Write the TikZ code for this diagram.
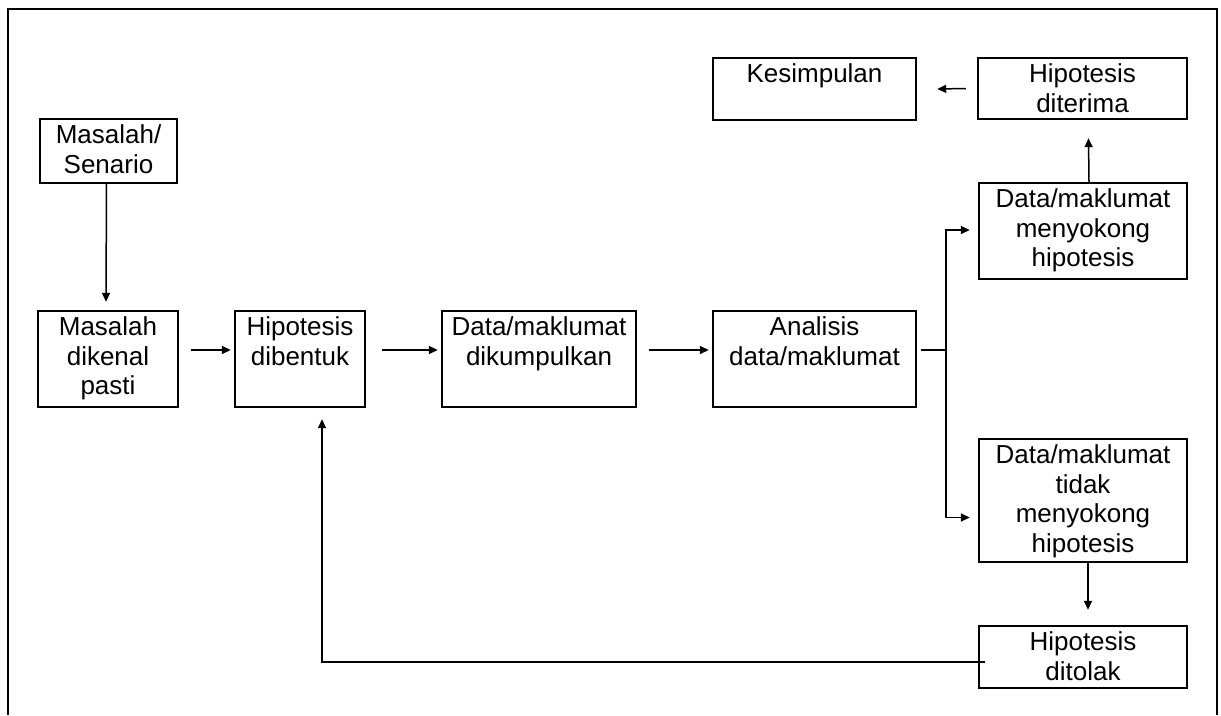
\documentclass[tikz,border=0pt]{standalone}
\usepackage{fontspec}
\setmainfont{Liberation Sans}
\usetikzlibrary{arrows.meta}
\begin{document}
\begin{tikzpicture}[x=1pt,y=-1pt,
  box/.style={draw, line width=2.4pt, inner sep=0pt, rectangle},
  lbl/.style={anchor=north, inner sep=0pt, align=center, font=\fontsize{26}{29.5}\selectfont},
  arr/.style={line width=1.5pt, -{Triangle[length=9pt,width=8pt]}},
  conn/.style={line width=1.5pt}]
\useasboundingbox (0,0) rectangle (1221,715);
\draw[line width=2.4pt] (8,715) -- (8,9) -- (1217,9) -- (1217,715);

% boxes
\node[box, minimum width=137, minimum height=64] (ms) at (108.5,151) {};
\node[box, minimum width=140, minimum height=96] (mk) at (108,359) {};
\node[box, minimum width=130, minimum height=96] (hd) at (300,359) {};
\node[box, minimum width=194, minimum height=96] (dk) at (539,359) {};
\node[box, minimum width=203, minimum height=96] (an) at (814.5,359) {};
\node[box, minimum width=203, minimum height=62] (ks) at (814.5,89) {};
\node[box, minimum width=209, minimum height=61] (hdt) at (1082.5,88.5) {};
\node[box, minimum width=208, minimum height=96] (dm) at (1083,231) {};
\node[box, minimum width=208, minimum height=123] (dt) at (1083,500.5) {};
\node[box, minimum width=208, minimum height=62] (htl) at (1083,657) {};

% labels
\node[lbl] (msl) at ([yshift=-7pt]ms.north) {Masalah/\\Senario};
\node[lbl] (mkl) at ([yshift=-7pt]mk.north) {Masalah\\dikenal\\pasti};
\node[lbl] (hdl) at ([yshift=-7pt]hd.north) {Hipotesis\\dibentuk};
\node[lbl] (dkl) at ([yshift=-7pt]dk.north) {Data/maklumat\\dikumpulkan};
\node[lbl] (anl) at ([yshift=-7pt]an.north) {Analisis\\data/maklumat};
\node[lbl] (ksl) at ([yshift=-7pt]ks.north) {Kesimpulan};
\node[lbl] (hdtl) at ([yshift=-7pt]hdt.north) {Hipotesis\\diterima};
\node[lbl] (dml) at ([yshift=-7pt]dm.north) {Data/maklumat\\menyokong\\hipotesis};
\node[lbl] (dtl) at ([yshift=-7pt]dt.north) {Data/maklumat\\tidak\\menyokong\\hipotesis};
\node[lbl] (htll) at ([yshift=-7pt]htl.north) {Hipotesis\\ditolak};

% connectors
\draw[arr] ([xshift=-2pt]ms.south) -- ([xshift=-2pt,yshift=8pt]mk.north);
\draw[arr] ([xshift=12pt,yshift=9pt]mk.east) -- ([xshift=-3pt,yshift=9pt]hd.west);
\draw[arr] ([xshift=16pt,yshift=9pt]hd.east) -- ([xshift=-3pt,yshift=9pt]dk.west);
\draw[arr] ([xshift=12pt,yshift=9pt]dk.east) -- ([xshift=-3pt,yshift=9pt]an.west);

\coordinate (br) at ([xshift=29pt,yshift=9pt]an.east);
\draw[conn] ([xshift=4pt,yshift=9pt]an.east) -- (br);
\coordinate (bu) at ([xshift=-8pt,yshift=1pt]dm.west);
\coordinate (bt) at ([xshift=-8pt,yshift=-17pt]dt.west);
\draw[arr] (br) -- (br |- bu) -- (bu);
\draw[arr] (br) -- (br |- bt) -- (bt);

\draw[arr] ([xshift=6pt]dm.north) -- ([xshift=6pt,yshift=-18pt]hdt.south);
\draw[arr] ([xshift=-11pt]hdt.west) -- ([xshift=20pt]ks.east);
\draw[arr] ([xshift=5pt]dt.south) -- ([xshift=5pt,yshift=15pt]htl.north);

\coordinate (rt) at ([xshift=7pt,yshift=-5pt]htl.west);
\coordinate (up) at ([xshift=22pt,yshift=-11pt]hd.south);
\draw[arr] (rt) -- (up |- rt) -- (up);
\end{tikzpicture}
\end{document}
